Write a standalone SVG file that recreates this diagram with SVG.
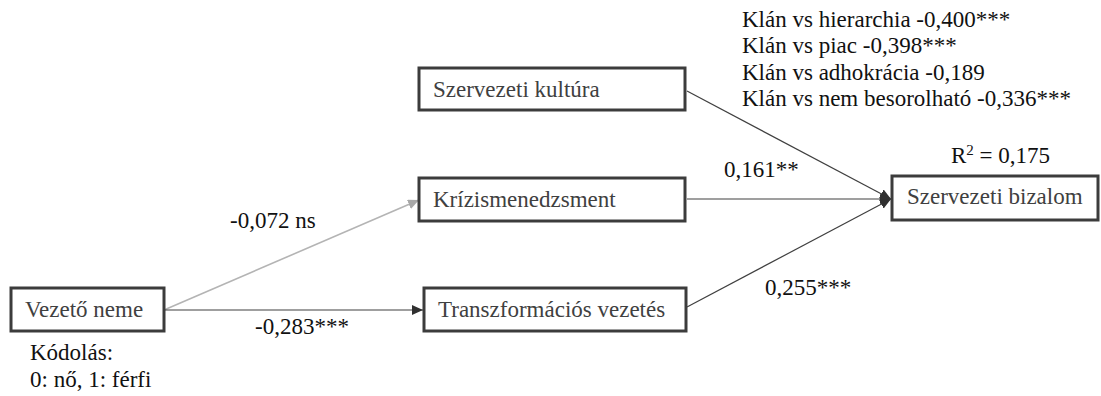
<svg xmlns="http://www.w3.org/2000/svg" width="1101" height="396" viewBox="0 0 1101 396" font-family="'Liberation Serif', 'Times New Roman', Times, serif">
<style>
.box{fill:#fff;stroke:#3c3c3c;stroke-width:3}
.bt{font-family:'Liberation Serif','Times New Roman',Times,serif;font-size:23px;fill:#404040}
.lb{font-family:'Liberation Serif','Times New Roman',Times,serif;font-size:23px;fill:#111}
.dk{stroke:#404040;stroke-width:1.2;fill:none}
.gr{stroke:#b4b4b4;stroke-width:1.6;fill:none}
</style>
<defs>
<marker id="ad" markerUnits="userSpaceOnUse" markerWidth="12" markerHeight="10" refX="11" refY="5" orient="auto"><path d="M0,0 L11,5 L0,10 z" fill="#303030"/></marker>
<marker id="ag" markerUnits="userSpaceOnUse" markerWidth="12" markerHeight="10" refX="11" refY="5" orient="auto"><path d="M0,0 L11,5 L0,10 z" fill="#a8a8a8"/></marker>
</defs>
<rect width="1101" height="396" fill="#fff"/>
<g id="connectors">
<line class="gr" x1="164" y1="310" x2="419" y2="200" marker-end="url(#ag)"/>
<line class="dk" x1="164" y1="310" x2="423" y2="310" marker-end="url(#ad)"/>
<line class="dk" x1="687" y1="91" x2="891" y2="199" marker-end="url(#ad)"/>
<line class="dk" x1="687" y1="199" x2="891" y2="199" marker-end="url(#ad)"/>
<line class="dk" x1="687" y1="307" x2="891" y2="199" marker-end="url(#ad)"/>
</g>
<g id="vezeto-neme">
<rect class="box" x="11" y="288" width="153" height="43"/>
<text class="bt" x="25" y="317">Vezető neme</text>
</g>
<g id="szervezeti-kultura">
<rect class="box" x="419" y="68" width="266" height="42"/>
<text class="bt" x="433" y="97">Szervezeti kultúra</text>
</g>
<g id="krizismenedzsment">
<rect class="box" x="419" y="178" width="266" height="43"/>
<text class="bt" x="433" y="207">Krízismenedzsment</text>
</g>
<g id="transzformacios-vezetes">
<rect class="box" x="424" y="288" width="262" height="43"/>
<text class="bt" x="438" y="317">Transzformációs vezetés</text>
</g>
<g id="szervezeti-bizalom">
<rect class="box" x="892" y="176" width="206" height="44"/>
<text class="bt" x="907" y="204">Szervezeti bizalom</text>
</g>
<g id="labels">
<text class="lb" x="742" y="27">Klán vs hierarchia -0,400***</text>
<text class="lb" x="742" y="53">Klán vs piac -0,398***</text>
<text class="lb" x="742" y="80">Klán vs adhokrácia -0,189</text>
<text class="lb" x="742" y="106">Klán vs nem besorolható -0,336***</text>
<text class="lb" x="951" y="163">R<tspan font-size="15" dy="-8">2</tspan><tspan dy="8"> = 0,175</tspan></text>
<text class="lb" x="724" y="177">0,161**</text>
<text class="lb" x="765" y="295">0,255***</text>
<text class="lb" x="230" y="228">-0,072 ns</text>
<text class="lb" x="255" y="334">-0,283***</text>
<text class="lb" x="30" y="360">Kódolás:</text>
<text class="lb" x="30" y="387">0: nő, 1: férfi</text>
</g>
</svg>
